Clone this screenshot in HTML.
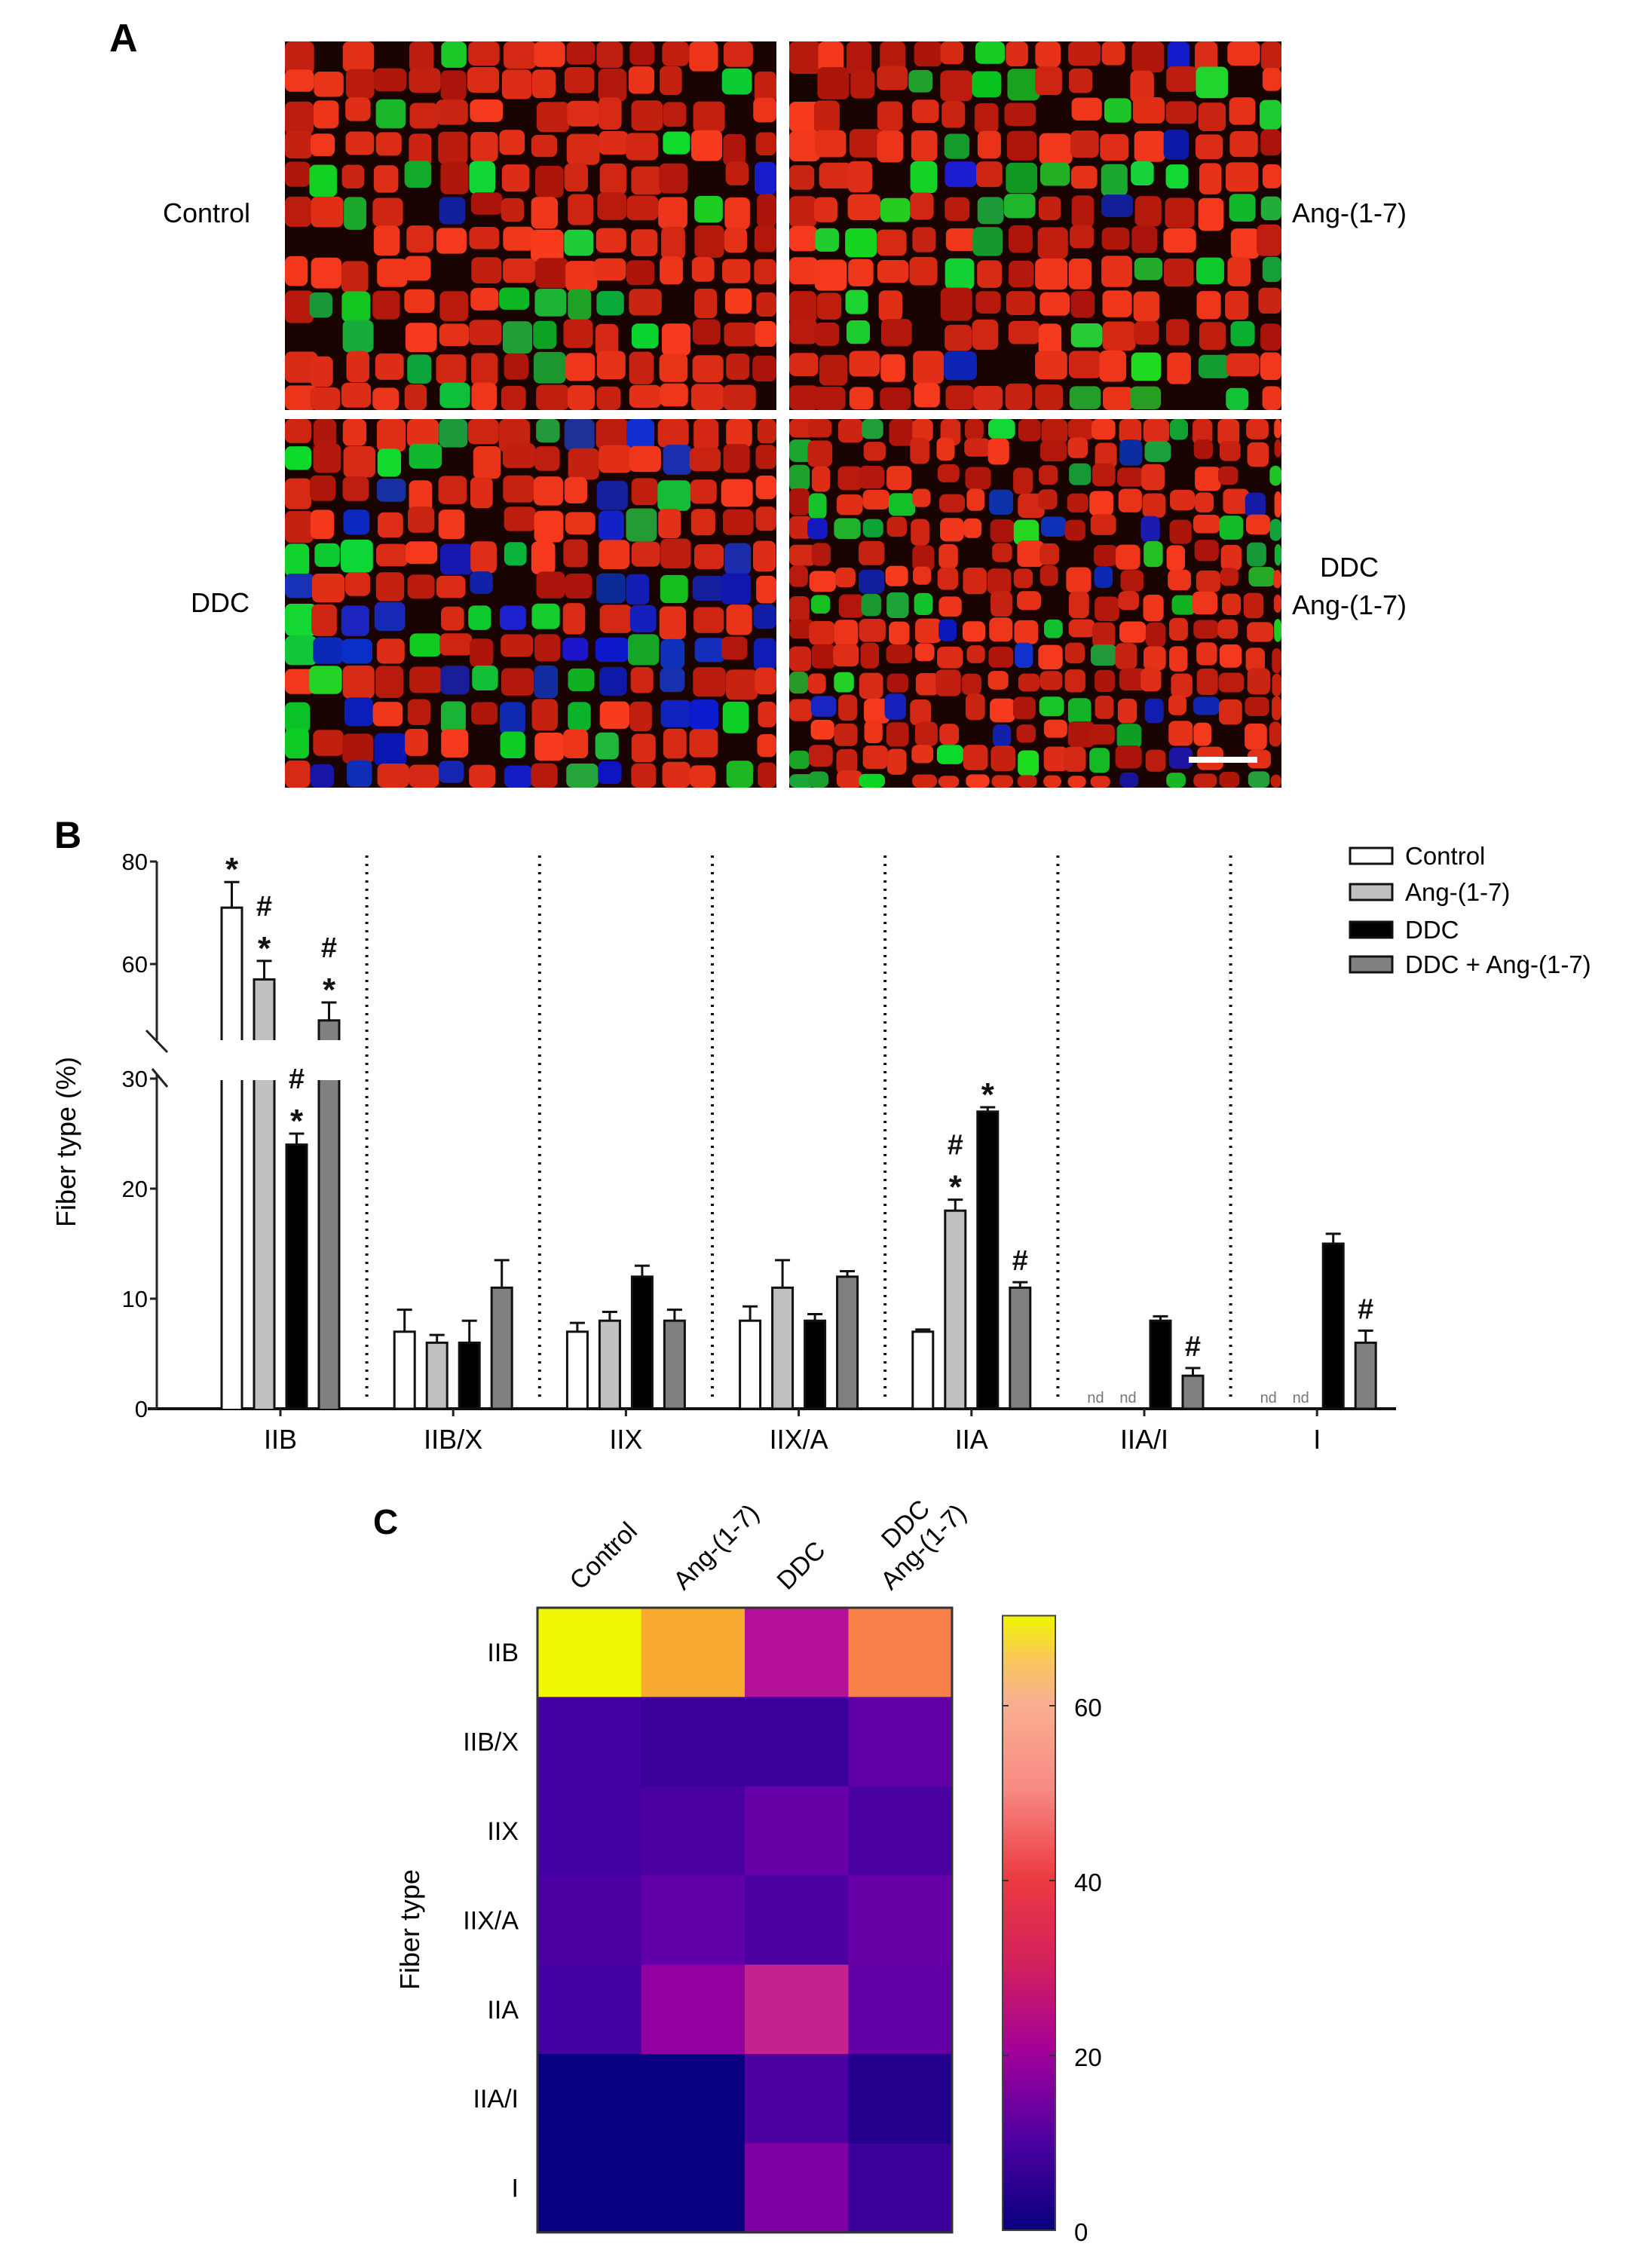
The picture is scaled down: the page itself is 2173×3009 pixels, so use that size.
<!DOCTYPE html>
<html><head><meta charset="utf-8">
<style>
html,body{margin:0;padding:0;background:#fff;}
body{width:2173px;height:3009px;position:relative;overflow:hidden;font-family:"Liberation Sans",Arial,sans-serif;}
svg{position:absolute;left:0;top:0;}
</style></head>
<body>
<svg id="fig" width="2173" height="3009" viewBox="0 0 2173 3009" xmlns="http://www.w3.org/2000/svg" font-family="Liberation Sans, Arial, sans-serif">
  <g id="panelA">
    <text x="145" y="68" font-size="52" font-weight="bold">A</text>
    <text x="274" y="295" font-size="36" text-anchor="middle">Control</text>
    <text x="1790" y="295" font-size="36" text-anchor="middle">Ang-(1-7)</text>
    <text x="292" y="812" font-size="36" text-anchor="middle">DDC</text>
    <text x="1790" y="765" font-size="36" text-anchor="middle">DDC</text>
    <text x="1790" y="815" font-size="36" text-anchor="middle">Ang-(1-7)</text>
  </g>
  <g id="panelB">
    <text x="72" y="1125" font-size="50" font-weight="bold">B</text>
    <text transform="translate(100,1515) rotate(-90)" font-size="36" text-anchor="middle">Fiber type (%)</text>
  </g>
  <g id="panelC">
    <text x="495" y="2035" font-size="46" font-weight="bold">C</text>
    <text transform="translate(556,2560) rotate(-90)" font-size="36" text-anchor="middle">Fiber type</text>
  </g>
</svg>
<script>
// ---------- Bar chart data ----------
const categories = ["IIB","IIB/X","IIX","IIX/A","IIA","IIA/I","I"];
const seriesNames = ["Control","Ang-(1-7)","DDC","DDC + Ang-(1-7)"];
const controlVals = [71, 7, 7, 8, 7, null, null];
const angVals     = [57, 6, 8, 11, 18, null, null];
const ddcVals     = [24, 6, 12, 8, 27, 8, 15];
const comboVals   = [49, 11, 8, 12, 11, 3, 6];
const controlErr  = [76, 9, 7.8, 9.3, 7.2, null, null];
const angErr      = [60.6, 6.7, 8.8, 13.5, 19, null, null];
const ddcErr      = [25, 8, 13, 8.6, 27.4, 8.4, 15.9];
const comboErr    = [52.5, 13.5, 9, 12.5, 11.5, 3.7, 7.1];
const controlSig  = ["*", "", "", "", "", "", ""];
const angSig      = ["#*", "", "", "", "#*", "", ""];
const ddcSig      = ["#*", "", "", "", "*", "", ""];
const comboSig    = ["#*", "", "", "", "#", "#", "#"];
const lowTicks = [0,10,20,30];
const highTicks = [60,80];

// ---------- Heatmap data ----------
const hmRows = ["IIB","IIB/X","IIX","IIX/A","IIA","IIA/I","I"];
const hmCols = ["Control","Ang-(1-7)","DDC","DDC|Ang-(1-7)"];
const hmControl = [71, 7, 7, 8, 7, 0, 0];
const hmAng     = [57, 6, 8, 11, 18, 0, 0];
const hmDDC     = [24, 6, 12, 8, 27, 8, 15];
const hmCombo   = [49, 11, 8, 12, 11, 3, 6];
const cbTicks = [0,20,40,60];

const NS="http://www.w3.org/2000/svg";
const svg=document.getElementById('fig');
function mk(tag,attrs,parent){const e=document.createElementNS(NS,tag);for(const k in attrs)e.setAttribute(k,attrs[k]);(parent||svg).appendChild(e);return e;}

// ---------- Panel A micrographs (decorative texture) ----------
let seed=12345;function rnd(){seed=(seed*1103515245+12345)%2147483648;return seed/2147483648;}
const imgs=[
 {x:378,y:55,w:652,h:489,green:0.12,blue:0.01,name:'micrograph-control'},
 {x:1047,y:55,w:653,h:489,green:0.14,blue:0.01,name:'micrograph-ang'},
 {x:378,y:556,w:652,h:489,green:0.16,blue:0.2,name:'micrograph-ddc'},
 {x:1047,y:556,w:653,h:489,green:0.14,blue:0.05,name:'micrograph-ddc-ang'}];
const gA=document.getElementById('panelA');
imgs.forEach((im,i)=>{
  const g=mk('g',{},gA);
  
  
  mk('rect',{x:im.x,y:im.y,width:im.w,height:im.h,fill:'#1a0402'},g);
  const cs=i==3?34:42;
  for(let yy=im.y-10;yy<im.y+im.h;yy+=cs){
    for(let xx=im.x-10;xx<im.x+im.w;xx+=cs){
      const r=rnd();let fill;
      if(r<im.blue) fill='rgb('+(10+rnd()*20|0)+','+(20+rnd()*30|0)+','+(150+rnd()*60|0)+')';
      else if(r<im.blue+im.green) fill='rgb('+(10+rnd()*30|0)+','+(150+rnd()*70|0)+','+(30+rnd()*30|0)+')';
      else if(r<im.blue+im.green+0.08) continue;
      else {const b=rnd();fill='rgb('+(170+b*80|0)+','+(20+b*40|0)+','+(10+b*20|0)+')';}
      const w=cs*(0.7+rnd()*0.35),h=cs*(0.7+rnd()*0.35);
      const px=Math.max(im.x,xx+rnd()*8),py=Math.max(im.y,yy+rnd()*8);
      const ww=Math.min(w,im.x+im.w-px),hh=Math.min(h,im.y+im.h-py);
      if(ww<=0||hh<=0)continue;
      mk('rect',{x:px,y:py,width:ww,height:hh,rx:8,fill:fill},g);
    }
  }
});
const sb=mk('rect',{x:1577,y:1004,width:91,height:8,fill:'#fff'},gA);



// ---------- Panel B bar chart ----------
const gB=document.getElementById('panelB');
const AX=208, BASE=1869, AXEND=1852;
const LOWPX=14.6, Y60=1279, HIGHPX=6.8, TOPSEG_BOTTOM=1380, LOWSEG_TOP=1433;
function yLow(v){return BASE-v*LOWPX;}
function yHigh(v){return Y60-(v-60)*HIGHPX;}
function yv(v){return v<=30.5?yLow(v):yHigh(v);}
const GROUP0=372, GROUPW=229.2, BARW=27, BARSTEP=43;
function xGroup(i){return GROUP0+i*GROUPW;}
function xBar(i,s){return xGroup(i)+(s-1.5)*BARSTEP;}
const fills=['#ffffff','#c0c0c0','#000000','#808080'];
const vals=[controlVals,angVals,ddcVals,comboVals];
const errs=[controlErr,angErr,ddcErr,comboErr];
const sigs=[controlSig,angSig,ddcSig,comboSig];

let ya=mk('line',{x1:AX,y1:1143,x2:AX,y2:TOPSEG_BOTTOM,stroke:'#222','stroke-width':3},gB);


ya=mk('line',{x1:AX,y1:1425,x2:AX,y2:BASE,stroke:'#222','stroke-width':3},gB);


mk('line',{x1:194,y1:1367,x2:222,y2:1396,stroke:'#222','stroke-width':3},gB);
mk('line',{x1:202,y1:1418,x2:222,y2:1442,stroke:'#222','stroke-width':3},gB);
const xa=mk('line',{x1:AX-12,y1:BASE,x2:AXEND,y2:BASE,stroke:'#111','stroke-width':4},gB);


lowTicks.forEach(t=>{
  const y=yLow(t);
  mk('line',{x1:AX-9,y1:y,x2:AX,y2:y,stroke:'#222','stroke-width':3},gB);
  const tl=mk('text',{x:AX-12,y:y+11,'font-size':31,'text-anchor':'end'},gB);
  tl.textContent=t;
  
  
});
highTicks.forEach(t=>{
  const y=yHigh(t);
  mk('line',{x1:AX-9,y1:y,x2:AX,y2:y,stroke:'#222','stroke-width':3},gB);
  const tl=mk('text',{x:AX-12,y:y+11,'font-size':31,'text-anchor':'end'},gB);
  tl.textContent=t;
  
  
});
for(let i=0;i<categories.length-1;i++){
  const x=xGroup(i)+GROUPW/2;
  const sp=mk('line',{x1:x,y1:1135,x2:x,y2:BASE-10,stroke:'#111','stroke-width':4,'stroke-dasharray':'3,8'},gB);
  
  
}
categories.forEach((c,i)=>{
  const x=xGroup(i);
  mk('line',{x1:x,y1:BASE,x2:x,y2:BASE+10,stroke:'#222','stroke-width':3},gB);
  const t=mk('text',{x:x,y:1922,'font-size':36,'text-anchor':'middle'},gB);
  t.textContent=c;
  
  
});
vals.forEach((arr,s)=>{
  arr.forEach((v,i)=>{
    const x=xBar(i,s)-BARW/2;
    if(v===null){
      const nd=mk('text',{x:xBar(i,s),y:BASE-8,'font-size':20,'text-anchor':'middle',fill:'#777'},gB);
      nd.textContent='nd';
      
      
      return;
    }
    const e=errs[s][i];
    const ey=yv(e), top=yv(v);
    mk('line',{x1:xBar(i,s),y1:top,x2:xBar(i,s),y2:ey,stroke:'#111','stroke-width':3},gB);
    mk('line',{x1:xBar(i,s)-10,y1:ey,x2:xBar(i,s)+10,y2:ey,stroke:'#111','stroke-width':3},gB);
    let bar;
    if(v>30.5){
      const b1=mk('rect',{x:x,y:LOWSEG_TOP,width:BARW,height:BASE-LOWSEG_TOP,fill:fills[s]},gB);
      
      
      mk('line',{x1:x,y1:LOWSEG_TOP,x2:x,y2:BASE,stroke:'#111','stroke-width':3},gB);
      mk('line',{x1:x+BARW,y1:LOWSEG_TOP,x2:x+BARW,y2:BASE,stroke:'#111','stroke-width':3},gB);
      bar=mk('rect',{x:x,y:top,width:BARW,height:TOPSEG_BOTTOM-top+4,fill:fills[s],stroke:'#111','stroke-width':3},gB);
      mk('rect',{x:x-3,y:TOPSEG_BOTTOM,width:BARW+6,height:8,fill:'#fff'},gB);
    } else {
      bar=mk('rect',{x:x,y:top,width:BARW,height:BASE-top,fill:fills[s],stroke:'#111','stroke-width':3},gB);
    }
    
    
    const sg=sigs[s][i];
    if(sg){
      let yy=ey-16;
      const chars=sg.split('').reverse();
      chars.forEach(ch=>{
        const t=mk('text',{x:xBar(i,s),y:ch==='*'?yy+14:yy,'font-size':ch==='*'?44:38,'text-anchor':'middle','font-weight':'bold',fill:'#111'},gB);
        t.textContent=ch;
        
        
        yy-=44;
      });
    }
  });
});
const legY=[1135,1183,1233,1279];
seriesNames.forEach((n,s)=>{
  const g=mk('g',{},gB);
  
  
  mk('rect',{x:1791,y:legY[s]-10,width:56,height:21,fill:fills[s],stroke:'#111','stroke-width':3},g);
  const t=mk('text',{x:1864,y:legY[s]+12,'font-size':33},g);
  t.textContent=n;
});

// ---------- Panel C heatmap ----------
const gC=document.getElementById('panelC');
const HX=713, HY=2133, CW=137.5, RH=118.4;
const cmapStops=[[0,[8,0,126]],[7,[68,0,160]],[12,[104,0,168]],[18,[147,0,162]],[24,[181,16,154]],[27,[196,34,142]],[40,[230,60,72]],[49,[248,128,72]],[57,[248,170,48]],[70,[240,248,0]]];
function cmap(v){
  for(let k=1;k<cmapStops.length;k++){
    if(v<=cmapStops[k][0]){const a=cmapStops[k-1],b=cmapStops[k];const t=(v-a[0])/(b[0]-a[0]);
      return 'rgb('+a[1].map((c,j)=>Math.round(c+(b[1][j]-c)*t)).join(',')+')';}
  }
  return 'rgb(240,248,0)';
}
const hmVals=[hmControl,hmAng,hmDDC,hmCombo];
hmVals.forEach((col,c)=>{
  col.forEach((v,r)=>{
    const cell=mk('rect',{x:HX+c*CW,y:HY+r*RH,width:CW+0.6,height:RH+0.6,fill:cmap(v)},gC);
    
    
  });
});
mk('rect',{x:HX,y:HY,width:CW*4,height:RH*7,fill:'none',stroke:'#333','stroke-width':3},gC);
hmRows.forEach((r,i)=>{
  const t=mk('text',{x:688,y:HY+(i+0.5)*RH+12,'font-size':34,'text-anchor':'end'},gC);
  t.textContent=r;
  
  
});
hmCols.forEach((c,i)=>{
  const lines=c.split('|');
  const cx=HX+(i+0.5)*CW;
  lines.forEach((ln,k)=>{
    const up=(lines.length-1-k);
    // shift perpendicular (up-left) by 38px per line and along text by 40px for upper line
    const dx=up*(-27+28), dy=up*(-27-28);
    const t=mk('text',{transform:'translate('+(cx-12+dx)+','+(HY-22+dy)+') rotate(-45)','font-size':34},gC);
    t.textContent=ln;
    
    
  });
});
const defs=mk('defs',{},svg);
const lg=mk('linearGradient',{id:'cbg',x1:0,y1:1,x2:0,y2:0},defs);
[[0,'#08007e'],[0.14,'#4a00a0'],[0.29,'#a2009a'],[0.43,'#d2205e'],[0.57,'#ea3a40'],[0.72,'#f88a84'],[0.86,'#f8b090'],[0.93,'#f8c858'],[1,'#f0f400']].forEach(s=>mk('stop',{offset:s[0],'stop-color':s[1]},lg));
const CBX=1330,CBW=70,CB0=2959,CBPX=11.6,CBMAX=70.3;
const cb=mk('rect',{x:CBX,y:CB0-CBMAX*CBPX,width:CBW,height:CBMAX*CBPX,fill:'url(#cbg)',stroke:'#444','stroke-width':2},gC);


cbTicks.forEach(t=>{
  const y=CB0-t*CBPX;
  if(t>0){mk('line',{x1:CBX,y1:y,x2:CBX+8,y2:y,stroke:'#333','stroke-width':2},gC);
  mk('line',{x1:CBX+CBW-8,y1:y,x2:CBX+CBW,y2:y,stroke:'#333','stroke-width':2},gC);}
  const tl=mk('text',{x:1425,y:y+14,'font-size':33},gC);
  tl.textContent=t;
  
  
});
</script>
</body></html>
